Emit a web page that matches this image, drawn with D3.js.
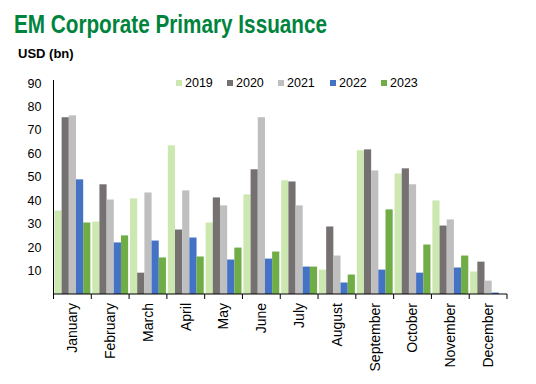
<!DOCTYPE html>
<html>
<head>
<meta charset="utf-8">
<script src="https://cdn.jsdelivr.net/npm/d3@7"></script>
<style>
  body { margin: 0; background: #fff; }
  svg { font-family: Arial, "Liberation Sans", sans-serif; }
</style>
</head>
<body>
<div id="chart"></div>
<script>
// Chart data
const months = ['January', 'February', 'March', 'April', 'May', 'June',
  'July', 'August', 'September', 'October', 'November', 'December'];
const years = ['2019', '2020', '2021', '2022', '2023'];
const values2019 = [35.6, 30.9, 40.8, 63.4, 30.5, 42.5, 48.5, 10.4, 61.3, 51.4, 39.9, 9.6];
const values2020 = [75.4, 46.8, 9.1, 27.5, 41.2, 53.2, 48.0, 28.8, 61.7, 53.6, 29.2, 13.8];
const values2021 = [76.2, 40.3, 43.3, 44.2, 37.8, 75.4, 37.8, 16.4, 52.7, 46.8, 31.8, 5.7];
const values2022 = [48.9, 22.0, 22.8, 24.1, 14.7, 15.1, 11.7, 4.9, 10.4, 9.1, 11.3, 0.6];
const values2023 = [30.5, 25.0, 15.6, 16.0, 19.8, 18.1, 11.7, 8.3, 36.1, 21.1, 16.4, 0];
const yTicks = [10, 20, 30, 40, 50, 60, 70, 80, 90];

const series = [values2019, values2020, values2021, values2022, values2023];
const colors = ['#cce8b0', '#767171', '#bfbfbf', '#4472c4', '#70ad47'];

const width = 536, height = 384;
const margin = { top: 83, right: 29, bottom: 90, left: 53.5 };

const svg = d3.select('#chart')
  .append('svg')
  .attr('width', width)
  .attr('height', height);

// Title and unit
svg.append('text')
  .attr('x', 14)
  .attr('y', 33)
  .attr('font-size', 25)
  .attr('font-weight', 'bold')
  .attr('fill', '#00843d')
  .attr('textLength', 313)
  .attr('lengthAdjust', 'spacingAndGlyphs')
  .text('EM Corporate Primary Issuance');

svg.append('text')
  .attr('x', 18)
  .attr('y', 58)
  .attr('font-size', 13)
  .attr('font-weight', 'bold')
  .attr('fill', '#000')
  .text('USD (bn)');

// Scales
const x = d3.scaleBand()
  .domain(months)
  .range([margin.left, width - margin.right])
  .paddingInner(0.05)
  .paddingOuter(0.025);

const xInner = d3.scaleBand()
  .domain(years)
  .range([0, x.bandwidth()]);

const y = d3.scaleLinear()
  .domain([0, 90])
  .range([height - margin.bottom, margin.top]);

// Bars
const groups = svg.append('g')
  .selectAll('g')
  .data(months)
  .join('g')
  .attr('transform', d => `translate(${x(d)},0)`);

groups.selectAll('rect')
  .data((m, i) => years.map((yr, k) => ({ year: yr, value: series[k][i], color: colors[k] })))
  .join('rect')
  .attr('x', d => xInner(d.year))
  .attr('width', xInner.bandwidth())
  .attr('y', d => y(d.value))
  .attr('height', d => y(0) - y(d.value))
  .attr('fill', d => d.color);

// Y axis: line with labels only
const yAxis = svg.append('g')
  .attr('transform', `translate(${margin.left},0)`)
  .call(d3.axisLeft(y).tickValues(yTicks).tickSize(0).tickPadding(12));
yAxis.select('.domain').attr('stroke', '#000').attr('d', `M0,${y(0)}V${y(90) - 3}`);
yAxis.selectAll('text')
  .attr('font-size', 12.5)
  .attr('font-family', 'Arial, "Liberation Sans", sans-serif')
  .attr('fill', '#000');

// X axis with boundary ticks
const xAxisG = svg.append('g')
  .attr('transform', `translate(0,${y(0)})`);
xAxisG.append('line')
  .attr('x1', margin.left)
  .attr('x2', width - margin.right)
  .attr('stroke', '#000');

const step = x.step();
const bounds = d3.range(months.length + 1).map(i => margin.left + i * step);
xAxisG.selectAll('.tick-mark')
  .data(bounds)
  .join('line')
  .attr('class', 'tick-mark')
  .attr('x1', d => d)
  .attr('x2', d => d)
  .attr('y1', 0)
  .attr('y2', 5)
  .attr('stroke', '#000');

xAxisG.selectAll('.month-label')
  .data(months)
  .join('text')
  .attr('class', 'month-label')
  .attr('transform', d => `translate(${x(d) + x.bandwidth() / 2},9) rotate(-90)`)
  .attr('text-anchor', 'end')
  .attr('dy', '0.35em')
  .attr('font-size', 14)
  .attr('fill', '#000')
  .text(d => d);

// Legend
const legendX = [176, 227, 278, 330, 381];
const legend = svg.append('g')
  .selectAll('g')
  .data(years)
  .join('g')
  .attr('transform', (d, i) => `translate(${legendX[i]},83)`);

legend.append('rect')
  .attr('x', 0)
  .attr('y', -3)
  .attr('width', 6)
  .attr('height', 6)
  .attr('fill', (d, i) => colors[i]);

legend.append('text')
  .attr('x', 9)
  .attr('dy', '0.35em')
  .attr('font-size', 12.5)
  .attr('fill', '#000')
  .text(d => d);
</script>
</body>
</html>
